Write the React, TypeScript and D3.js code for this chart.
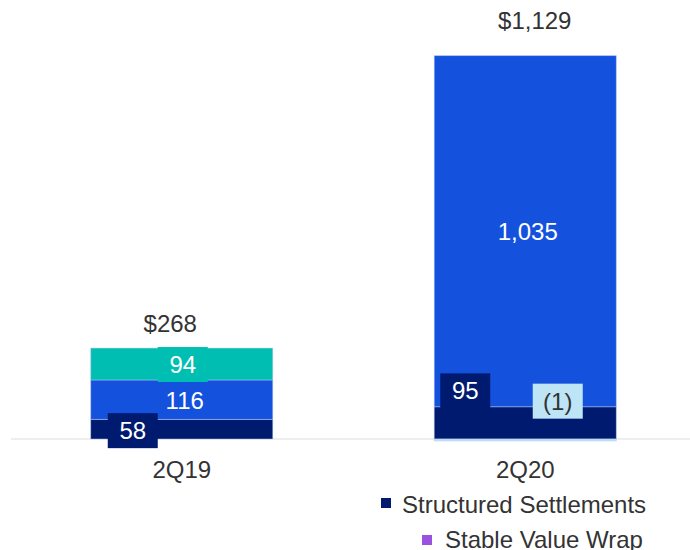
import React from "react";
import * as d3 from "d3";

const categories = ["2Q19", "2Q20"];
const structuredSettlements = [58, 95];
const seriesBlue = [116, 1035];
const seriesTeal = [94, 0];
const seriesLight = [0, -1];
const totals = ["$268", "$1,129"];
const legendItems = ["Structured Settlements", "Stable Value Wrap"];

const W = 690;
const H = 550;
const FONT = "'Liberation Sans', Arial, sans-serif";
const TEXT = "#333333";
const C_NAVY = "#001A70";
const C_BLUE = "#1452DE";
const C_TEAL = "#00BFB2";
const C_LIGHT = "#BEE5F6";
const C_PURPLE = "#9B51E0";

// label placement tweaks (px) relative to segment centre: [dx, dy, boxed]
const labelAdjust: Record<string, [number, number, boolean]> = {
  "0-0": [-49, 1.5, true],
  "0-1": [3, 0.5, false],
  "0-2": [1, 0.5, true],
  "1-0": [-60, -32, true],
  "1-1": [2.5, 0, false],
  "1-3": [32.5, -38, true],
};

export default function App() {
  const x = d3
    .scaleBand<string>()
    .domain(categories)
    .range([10, 697])
    .paddingInner(0.47)
    .paddingOuter(0.235);
  const y = d3.scaleLinear().domain([0, 1129]).range([439, 56]);

  const seriesList = [
    { values: structuredSettlements, color: C_NAVY, text: "#ffffff" },
    { values: seriesBlue, color: C_BLUE, text: "#ffffff" },
    { values: seriesTeal, color: C_TEAL, text: "#ffffff" },
    { values: seriesLight, color: C_LIGHT, text: TEXT },
  ];

  const fmt = (v: number) => (v < 0 ? `(${d3.format(",")(-v)})` : d3.format(",")(v));

  const segments: any[] = [];
  categories.forEach((cat, ci) => {
    let pos = 0;
    let neg = 0;
    seriesList.forEach((s, si) => {
      const v = s.values[ci];
      if (v === 0) return;
      let y0, y1;
      if (v > 0) {
        y0 = pos;
        y1 = pos + v;
        pos = y1;
      } else {
        y0 = neg + v;
        y1 = neg;
        neg = y0;
      }
      segments.push({ cat, ci, si, v, y0, y1, color: s.color, text: s.text });
    });
  });

  const bw = x.bandwidth();

  return (
    <svg
      width={W}
      height={H}
      style={{ position: "absolute", left: 0, top: 0, background: "#ffffff" }}
      fontFamily={FONT}
    >
      <line x1={11} x2={W} y1={y(0)} y2={y(0)} stroke="#eeeeee" strokeWidth={2} />
      {segments.map((s) => {
        const top = y(s.y1);
        const bot = y(s.y0);
        return (
          <rect
            key={`r-${s.ci}-${s.si}`}
            x={x(s.cat)!}
            y={top}
            width={bw}
            height={Math.max(bot - top, 2)}
            fill={s.color}
            stroke="rgba(180,200,240,0.6)"
            strokeWidth={0.8}
          />
        );
      })}
      {segments.map((s) => {
        const key = `${s.ci}-${s.si}`;
        const adj = labelAdjust[key];
        if (!adj) return null;
        const cx = x(s.cat)! + bw / 2 + adj[0];
        const cy = (y(s.y0) + y(s.y1)) / 2 + adj[1];
        const label = fmt(s.v);
        return (
          <g key={`l-${key}`}>
            {adj[2] && (
              <rect x={cx - 25} y={cy - 17.5} width={50} height={35} fill={s.color} />
            )}
            <text
              x={cx}
              y={cy + 8.5}
              textAnchor="middle"
              fontSize={24}
              fill={s.text}
            >
              {label}
            </text>
          </g>
        );
      })}
      {categories.map((cat, ci) => {
        const total = structuredSettlements[ci] + seriesBlue[ci] + seriesTeal[ci] + Math.max(seriesLight[ci], 0);
        const cx = x(cat)! + bw / 2;
        const dx = ci === 0 ? -11.5 : 9.5;
        const dy = ci === 0 ? -16 : -27;
        return (
          <g key={`c-${cat}`}>
            <text x={cx + dx} y={y(total) + dy} textAnchor="middle" fontSize={24} fill={TEXT}>
              {totals[ci]}
            </text>
            <text x={cx} y={478} textAnchor="middle" fontSize={24} fill={TEXT}>
              {cat}
            </text>
          </g>
        );
      })}
      <g>
        <rect x={381} y={498} width={10} height={10} fill={C_NAVY} />
        <text x={402} y={513} fontSize={24} fill={TEXT}>
          {legendItems[0]}
        </text>
        <rect x={422} y={535} width={10} height={10} fill={C_PURPLE} />
        <text x={445} y={548} fontSize={24} fill={TEXT}>
          {legendItems[1]}
        </text>
      </g>
    </svg>
  );
}
